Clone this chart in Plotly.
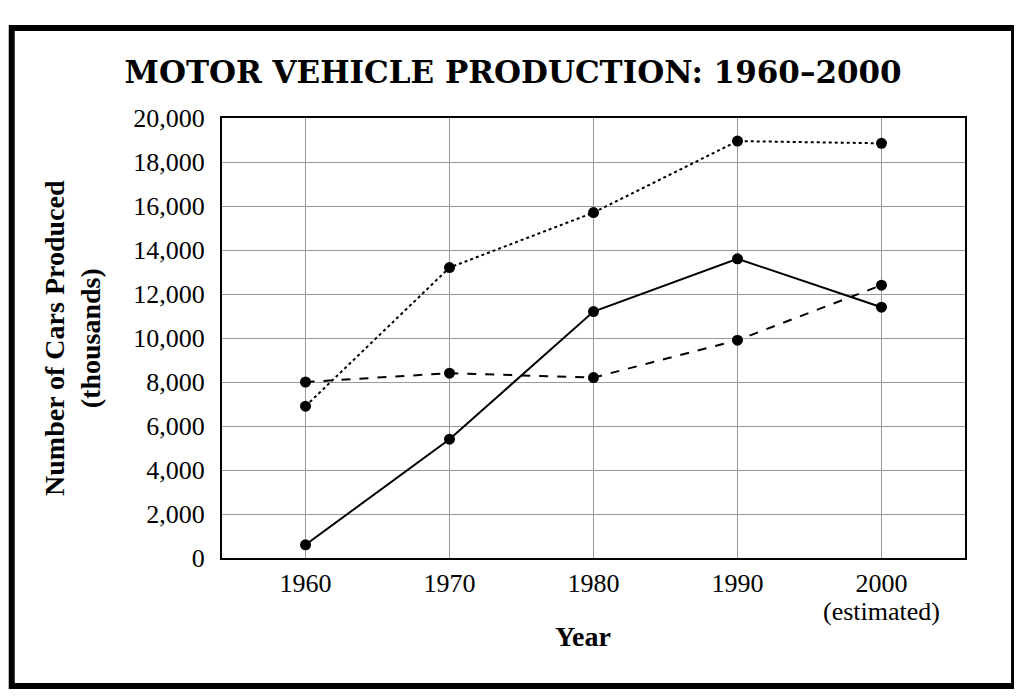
import plotly.graph_objects as go

years = [1960, 1970, 1980, 1990, 2000]
tick_labels = ["1960", "1970", "1980", "1990", "2000"]
estimate_note = "(estimated)"
dotted_vals = [6900, 13200, 15700, 18950, 18850]
solid_vals = [600, 5400, 11200, 13600, 11400]
dashed_vals = [8000, 8400, 8200, 9900, 12400]
y_ticks = list(range(0, 20001, 2000))

serif = "Liberation Serif, DejaVu Serif, serif"

fig = go.Figure()
for vals, dash in [(dotted_vals, "dot"), (solid_vals, "solid"), (dashed_vals, "dash")]:
    fig.add_trace(go.Scatter(
        x=years, y=vals, mode="lines+markers",
        line=dict(color="black", width=2, dash=dash),
        marker=dict(color="black", size=11),
        showlegend=False,
    ))

fig.update_layout(
    width=1014, height=688,
    paper_bgcolor="white", plot_bgcolor="white",
    margin=dict(l=214, r=57, t=110, b=138, autoexpand=False),
    font=dict(family=serif, color="black", size=26),
    title=dict(text="<b>MOTOR VEHICLE PRODUCTION: 1960–2000</b>",
               x=0.115, xanchor="left", y=0.907, yanchor="middle",
               font=dict(family="DejaVu Serif, serif", size=31, color="black")),
    xaxis=dict(range=[1954.2, 2005.8], tickvals=years, ticktext=tick_labels,
               showgrid=True, gridcolor="#999999", gridwidth=1,
               showline=True, linecolor="black", linewidth=2, mirror=True,
               ticks="", zeroline=False, ticklabelstandoff=1,
               tickfont=dict(family=serif, size=26)),
    yaxis=dict(range=[0, 20000], tickvals=y_ticks,
               ticktext=[f"{v:,}" for v in y_ticks],
               showgrid=True, gridcolor="#999999", gridwidth=1,
               showline=True, linecolor="black", linewidth=2, mirror=True,
               ticks="", zeroline=False, ticklabelstandoff=10,
               tickfont=dict(family=serif, size=26)),
    annotations=[
        dict(text=estimate_note, xref="x", yref="paper",
             x=years[-1], y=-0.122, xanchor="center", yanchor="middle",
             showarrow=False, font=dict(family=serif, size=26, color="black")),
        dict(text="<b>Number of Cars Produced<br>(thousands)</b>",
             xref="paper", yref="paper", x=-0.2019, y=0.5,
             xanchor="center", yanchor="middle", textangle=-90, showarrow=False,
             font=dict(family=serif, size=28, color="black")),
        dict(text="<b>Year</b>",
             xref="paper", yref="paper", x=0.486, y=-0.178,
             xanchor="center", yanchor="middle", showarrow=False,
             font=dict(family=serif, size=28, color="black")),
    ],
)

fig.add_shape(type="rect", xref="paper", yref="paper",
              x0=-0.283, x1=1.066, y0=-0.291, y1=1.2045,
              line=dict(color="black", width=6))

fig.write_html("out.html")
